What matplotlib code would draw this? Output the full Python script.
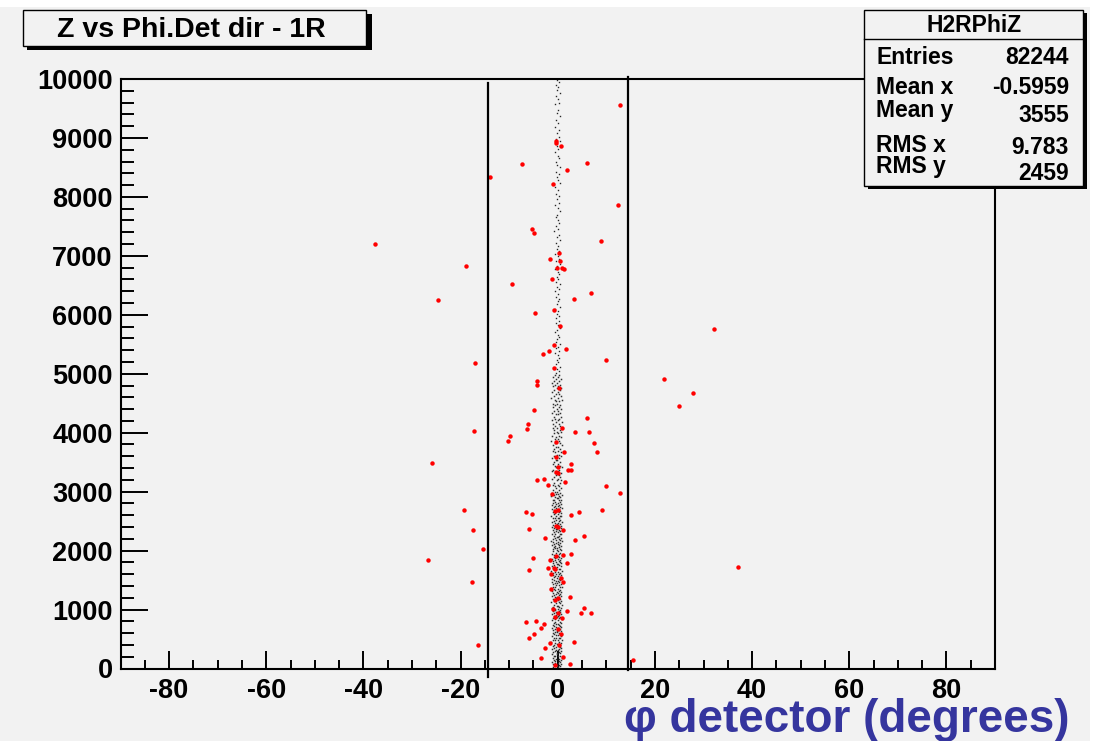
import matplotlib
matplotlib.use('Agg')
import matplotlib.pyplot as plt
from matplotlib.patches import Rectangle
from matplotlib.lines import Line2D
from matplotlib.ticker import MultipleLocator

plt.rcParams['font.family'] = ['Liberation Sans', 'DejaVu Sans']
plt.rcParams['axes.unicode_minus'] = False

# red points (phi detector, z)
red_x = [12.74, -0.33, -0.33, 0.62, -7.46, 6.04, 1.93, -14.04, -1.03, 12.33,
         -5.34, -4.79, -37.67, 8.84, 0.21, -1.50, 0.49, -18.91, -0.06, 0.82,
         1.23, -1.23, -9.37, -24.58, 6.78, 3.29, -4.64, -0.68, 0.55, 32.26,
         -0.74, 1.73, -1.71, -2.94, 10.01, -16.97, -0.74, 21.93, -4.17, -4.32,
         0.35, 27.89, 24.87, -4.99, 6.04, -6.17, -6.29, 0.82, -17.18, 3.49,
         6.45, -9.93, -10.19, -0.27, 7.40, 1.38, 8.16, -0.27, -25.89, 2.67,
         0.14, 2.06, 2.82, -0.27, 0.08, -4.17, -2.88, 1.58, -2.06, 10.01,
         12.74, -1.23, -19.24, -6.58, -5.26, -0.53, 0.08, 9.19, 4.32, 2.75,
         -17.53, -5.96, -0.33, 0.08, 1.17, -2.67, 5.43, 3.58, -15.47, -26.78,
         -5.14, -1.50, -0.27, 1.17, 2.67, 1.93, 37.14, -5.82, -1.91, -0.82,
         -0.53, -1.36, 0.76, 1.03, -17.59, -1.29, -0.47, 0.0, 2.55, -0.95,
         0.14, 1.93, 5.49, 4.87, 6.86, -0.47, 0.82, -6.49, -4.38, -2.88,
         -3.41, -4.99, 0.14, -5.96, 0.62, -1.56, 3.29, 0.35, -16.36, -2.59,
         -3.49, 1.17, -0.47, 2.55, 15.56]
red_z = [9562, 8956, 8910, 8871, 8560, 8582, 8452, 8340, 8221, 7869,
         7450, 7382, 7202, 7258, 7054, 6952, 6907, 6834, 6795, 6788,
         6771, 6608, 6516, 6245, 6363, 6273, 6031, 6087, 5810, 5764,
         5480, 5424, 5390, 5328, 5238, 5175, 5097, 4915, 4881, 4801,
         4762, 4672, 4457, 4389, 4241, 4146, 4071, 4078, 4027, 4020,
         4010, 3942, 3862, 3846, 3829, 3681, 3676, 3591, 3489, 3477,
         3421, 3365, 3365, 3341, 3324, 3195, 3217, 3161, 3110, 3093,
         2985, 2963, 2696, 2662, 2628, 2679, 2691, 2691, 2662, 2601,
         2346, 2368, 2419, 2397, 2351, 2221, 2244, 2182, 2034, 1842,
         1871, 1847, 1905, 1922, 1949, 1786, 1728, 1667, 1711, 1711,
         1694, 1609, 1537, 1474, 1463, 1350, 1168, 1197, 1214, 1015,
         947, 971, 1032, 942, 947, 869, 857, 789, 806, 756,
         693, 591, 676, 518, 591, 438, 445, 394, 404, 343,
         178, 200, 65, 76, 149]

# black core of the distribution, upper part (sparse)
core_top_z = [9985, 9950, 9905, 9870, 9810, 9770, 9720, 9660, 9600, 9575,
              9480, 9420, 9370, 9300, 9260, 9190, 9130, 9080, 9020, 8985,
              8940, 8860, 8815, 8760, 8700, 8660, 8590, 8545, 8500, 8430,
              8395, 8340, 8280, 8230, 8160, 8120, 8050, 8010, 7960, 7900,
              7870, 7810, 7760, 7700, 7655, 7610, 7560, 7500, 7450, 7420,
              7360, 7320, 7270, 7210, 7170, 7120, 7080, 7030, 6990, 6940,
              6910, 6860, 6820, 6770, 6730, 6690, 6640, 6610, 6560, 6520,
              6470, 6440, 6400, 6350, 6310, 6260, 6230, 6190, 6140, 6100,
              6060, 6020, 5980, 5940, 5890, 5860, 5820, 5780, 5740, 5700,
              5660, 5620, 5590, 5540, 5500, 5460, 5430, 5390, 5350, 5310,
              5270, 5240, 5200, 5160, 5120, 5080, 5050, 5010]
core_top_x = [-0.2, 0.3, -0.4, 0.1, -0.1, 0.4, -0.3, 0.0, 0.2, -0.5,
              0.1, -0.2, 0.5, -0.3, 0.0, -0.6, 0.3, -0.1, 0.2, -0.4,
              0.4, -0.2, 0.1, -0.5, 0.0, 0.3, -0.3, -0.1, 0.5, -0.4,
              0.2, -0.2, 0.0, 0.4, -0.6, 0.1, -0.3, 0.3, -0.1, 0.2,
              -0.5, 0.0, 0.4, -0.2, -0.4, 0.1, 0.3, -0.3, 0.0, -0.7,
              0.2, -0.1, 0.5, -0.4, 0.1, -0.2, 0.3, -0.5, 0.0, 0.2,
              -0.3, 0.4, -0.1, -0.6, 0.1, 0.3, -0.2, 0.0, -0.4, 0.5,
              -0.1, 0.2, -0.5, 0.1, -0.3, 0.3, 0.0, -0.2, 0.4, -0.6,
              0.1, -0.1, 0.2, -0.4, 0.3, -0.3, 0.0, 0.5, -0.2, -0.5,
              0.1, 0.2, -0.1, -0.4, 0.4, 0.0, -0.3, 0.2, -0.6, 0.1,
              0.3, -0.2, 0.0, -0.4, 0.4, -0.1, 0.2, -0.3]

# lower part (dense), two dots per row
core_low_z = [4975, 4945, 4910, 4880, 4850, 4815, 4790, 4750, 4720, 4690,
              4655, 4630, 4590, 4560, 4530, 4495, 4470, 4430, 4400, 4370,
              4335, 4310, 4270, 4240, 4210, 4175, 4150, 4110, 4080, 4050,
              4015, 3990, 3950, 3920, 3890, 3855, 3830, 3790, 3760, 3730,
              3695, 3670, 3630, 3600, 3570, 3535, 3510, 3470, 3440, 3410,
              3375, 3350, 3310, 3280, 3250, 3215, 3190, 3150, 3120, 3090,
              3055, 3030, 2995, 2975, 2960, 2940, 2920, 2905, 2885, 2865,
              2850, 2830, 2815, 2795, 2775, 2760, 2740, 2725, 2705, 2685,
              2670, 2650, 2635, 2615, 2595, 2580, 2560, 2545, 2525, 2505,
              2490, 2470, 2455, 2435, 2415, 2400, 2380, 2365, 2345, 2325,
              2310, 2290, 2275, 2255, 2235, 2220, 2200, 2185, 2165, 2145,
              2130, 2110, 2095, 2075, 2055, 2040, 2020, 2005, 1985, 1965,
              1950, 1930, 1915, 1895, 1875, 1860, 1840, 1825, 1805, 1785,
              1770, 1750, 1735, 1715, 1695, 1680, 1660, 1645, 1625, 1605,
              1590, 1570, 1555, 1535, 1515, 1500, 1480, 1465, 1445, 1425,
              1410, 1390, 1375, 1355, 1335, 1320, 1300, 1285, 1265, 1245,
              1230, 1210, 1195, 1175, 1155, 1140, 1120, 1105, 1085, 1065,
              1050, 1030, 1015, 995, 975, 960, 940, 925, 905, 885,
              870, 850, 835, 815, 795, 780, 760, 745, 725, 705,
              690, 670, 655, 635, 615, 600, 580, 565, 545, 525,
              510, 490, 475, 455, 435, 420, 400, 385, 365, 345,
              330, 310, 295, 275, 255, 240, 220, 205, 185, 165,
              150, 130, 115, 95, 75, 60, 40, 25]
core_low_xa = [-0.6, -1.0, -0.3, -0.8, -1.2, -0.5, -0.9, -0.2, -0.7, -1.1,
               -0.4, -0.8, -1.3, -0.6, -0.3, -1.0, -0.5, -0.9, -0.2, -0.7,
               -1.1, -0.4, -0.8, -0.6, -1.2, -0.3, -0.9, -0.5, -1.0, -0.7,
               -0.2, -0.8, -1.1, -0.4, -0.6, -1.3, -0.5, -0.9, -0.3, -0.7,
               -1.0, -0.6, -0.2, -0.8, -1.2, -0.4, -0.7, -1.0, -0.5, -0.3,
               -0.9, -1.1, -0.6, -0.4, -0.8, -1.2, -0.2, -0.7, -1.0, -0.5,
               -0.3, -0.9, -0.6, -1.1, -0.4, -0.8, -1.3, -0.5, -0.2, -0.7,
               -1.0, -0.6, -0.9, -0.3, -1.2, -0.5, -0.8, -0.4, -1.1, -0.7,
               -0.2, -1.0, -0.6, -0.8, -0.4, -1.3, -0.5, -0.9, -0.3, -0.7,
               -1.1, -0.6, -0.2, -0.9, -0.5, -1.2, -0.8, -0.4, -1.0, -0.3,
               -0.7, -1.1, -0.5, -0.8, -0.2, -0.6, -1.0, -0.4, -1.3, -0.9,
               -0.3, -0.7, -1.2, -0.5, -0.8, -0.6, -1.0, -0.2, -0.9, -0.4,
               -1.1, -0.7, -0.3, -0.8, -0.5, -1.2, -0.6, -0.9, -0.4, -1.0,
               -0.2, -0.8, -1.1, -0.5, -0.7, -0.3, -1.3, -0.6, -0.9, -0.4,
               -1.0, -0.5, -0.8, -0.2, -1.2, -0.7, -0.4, -1.1, -0.6, -0.9,
               -0.3, -1.0, -0.5, -0.8, -0.6, -1.2, -0.2, -0.9, -0.4, -0.7,
               -1.1, -0.6, -0.3, -1.0, -0.5, -0.8, -1.3, -0.4, -0.7, -0.2,
               -0.9, -1.1, -0.5, -0.6, -1.0, -0.3, -0.8, -1.2, -0.4, -0.7,
               -0.2, -0.9, -0.6, -1.1, -0.5, -0.8, -0.3, -1.0, -0.7, -0.4,
               -1.2, -0.5, -0.9, -0.2, -0.6, -1.0, -0.8, -0.3, -1.1, -0.7,
               -0.4, -0.9, -0.6, -1.3, -0.5, -0.2, -0.8, -1.0, -0.3, -0.7,
               -1.1, -0.4, -0.6, -0.9, -0.2, -1.2, -0.5, -0.8, -1.0, -0.3,
               -0.7, -0.5, -1.1, -0.6, -0.9, -0.4, -0.2, -1.0]
core_low_xb = [0.3, 0.0, 0.6, 0.2, -0.1, 0.5, 0.1, 0.7, 0.4, 0.0,
               0.2, 0.6, 0.1, 0.8, 0.3, -0.1, 0.5, 0.2, 0.7, 0.0,
               0.4, 0.1, 0.6, 0.3, 0.0, 0.8, 0.2, 0.5, -0.1, 0.4,
               0.7, 0.1, 0.3, 0.6, 0.0, 0.2, 0.5, 0.8, 0.1, 0.4,
               0.0, 0.6, 0.3, 0.7, 0.2, -0.1, 0.5, 0.1, 0.4, 0.8,
               0.2, 0.0, 0.6, 0.3, 0.5, 0.1, 0.7, 0.4, 0.0, 0.2,
               0.6, 0.3, -0.1, 0.5, 0.1, 0.8, 0.2, 0.4, 0.0, 0.7,
               0.3, 0.5, 0.1, 0.6, 0.2, 0.0, 0.4, 0.8, 0.3, -0.1,
               0.5, 0.2, 0.7, 0.1, 0.4, 0.6, 0.0, 0.3, 0.5, 0.2,
               0.8, 0.1, 0.4, 0.0, 0.6, 0.3, 0.7, -0.1, 0.2, 0.5,
               0.1, 0.4, 0.7, 0.2, 0.0, 0.6, 0.3, 0.5, 0.8, 0.1,
               0.4, 0.0, 0.2, 0.6, 0.3, -0.1, 0.5, 0.7, 0.1, 0.4,
               0.2, 0.8, 0.0, 0.3, 0.6, 0.1, 0.5, 0.2, 0.4, 0.7,
               0.0, 0.3, 0.6, -0.1, 0.4, 0.2, 0.8, 0.1, 0.5, 0.3,
               0.7, 0.0, 0.4, 0.6, 0.2, 0.5, 0.1, 0.3, -0.1, 0.6,
               0.2, 0.4, 0.8, 0.0, 0.5, 0.3, 0.7, 0.1, 0.4, 0.2,
               0.6, -0.1, 0.3, 0.5, 0.0, 0.7, 0.2, 0.4, 0.8, 0.1,
               0.3, 0.6, 0.0, 0.4, 0.2, 0.5, -0.1, 0.7, 0.3, 0.1,
               0.5, 0.2, 0.8, 0.0, 0.4, 0.6, 0.1, 0.3, 0.5, 0.7,
               0.0, 0.4, 0.2, 0.6, -0.1, 0.3, 0.5, 0.1, 0.7, 0.2,
               0.4, 0.8, 0.0, 0.3, 0.6, 0.1, 0.5, 0.2, 0.4, 0.7,
               0.3, 0.0, 0.6, 0.2, 0.5, -0.1, 0.4, 0.1, 0.8, 0.3,
               0.6, 0.2, 0.4, 0.0, 0.7, 0.3, 0.5, 0.1]

# vertical cut lines (x, z from, z to)
cut_left = (-14.4, -150, 9940)
cut_right = (14.45, 10040, -25)

stats_labels = ['Entries', 'Mean x', 'Mean y', 'RMS x', 'RMS y']
stats_values = ['82244', '-0.5959', '3555', '9.783', '2459']

W, H = 1097, 741
BG = '#f2f2f2'


def fx(px):
    return px / W


def fy(py):
    return 1 - py / H


fig = plt.figure(figsize=(W / 100, H / 100), dpi=100, facecolor='white')
fig.patches.append(Rectangle((0, 0), fx(1090), fy(7), transform=fig.transFigure,
                             facecolor=BG, edgecolor='none', zorder=-5))

ax = fig.add_axes([fx(120.5), fy(668.5), fx(995) - fx(120.5), fy(79) - fy(668.5)])
ax.set_facecolor(BG)
ax.set_xlim(-90, 90)
ax.set_ylim(0, 10000)

# black core
n_top = min(len(core_top_x), len(core_top_z))
ax.plot(core_top_x[:n_top], core_top_z[:n_top], ls='none',
        marker='s', ms=1.0, mew=0, color='#262626')
n_low = min(len(core_low_z), len(core_low_xa), len(core_low_xb))
ax.plot(core_low_xa[:n_low] + core_low_xb[:n_low], core_low_z[:n_low] * 2,
        ls='none', marker='s', ms=1.1, mew=0, color='#303030')

# red points
ax.plot(red_x, red_z, ls='none', marker='o', ms=3.2, mew=0, color='#ff0000')

for cx, z0, z1 in (cut_left, cut_right):
    ax.add_line(Line2D([cx, cx], [z0, z1], color='black', lw=1.6, clip_on=False))

for sp in ax.spines.values():
    sp.set_linewidth(1.5)

ax.xaxis.set_major_locator(MultipleLocator(20))
ax.xaxis.set_minor_locator(MultipleLocator(5))
ax.yaxis.set_major_locator(MultipleLocator(1000))
ax.yaxis.set_minor_locator(MultipleLocator(200))
ax.tick_params(axis='x', which='major', direction='in', length=13, width=1.4,
               pad=7, labelsize=19.5)
ax.tick_params(axis='x', which='minor', direction='in', length=6.7, width=1.4)
ax.tick_params(axis='y', which='major', direction='in', length=19.4, width=1.4,
               pad=5.5, labelsize=19.5)
ax.tick_params(axis='y', which='minor', direction='in', length=9.4, width=1.4)
for lab in ax.get_xticklabels() + ax.get_yticklabels():
    lab.set_fontweight('bold')

fig.text(fx(1070), fy(732), 'φ detector (degrees)', ha='right', va='baseline',
         fontsize=33, fontweight='bold', color='#35359e')

# title box with shadow
fig.patches.append(Rectangle((fx(27), fy(50)), fx(345), fy(14) - fy(50),
                             transform=fig.transFigure, facecolor='black',
                             edgecolor='none', zorder=5))
fig.patches.append(Rectangle((fx(23), fy(46)), fx(343), fy(10) - fy(46),
                             transform=fig.transFigure, facecolor=BG,
                             edgecolor='black', lw=1.0, zorder=6))
fig.text(fx(191), fy(30), 'Z vs Phi.Det dir - 1R', ha='center', va='center',
         fontsize=20.5, fontweight='bold', zorder=7)

# stats box with shadow
fig.patches.append(Rectangle((fx(868), fy(189)), fx(219), fy(13) - fy(189),
                             transform=fig.transFigure, facecolor='black',
                             edgecolor='none', zorder=5))
fig.patches.append(Rectangle((fx(864), fy(186)), fx(219), fy(10) - fy(186),
                             transform=fig.transFigure, facecolor=BG,
                             edgecolor='black', lw=1.0, zorder=6))
fig.add_artist(Line2D([fx(864), fx(1083)], [fy(39), fy(39)], transform=fig.transFigure,
                      color='black', lw=1.0, zorder=7))
fig.text(fx(974), fy(26), 'H2RPhiZ', ha='center', va='center', fontsize=16.5,
         fontweight='bold', zorder=7)
label_y = [57, 87, 110, 145, 167]
value_y = [57, 87, 116, 147, 173]
for lab, val, ly, vy in zip(stats_labels, stats_values, label_y, value_y):
    fig.text(fx(876), fy(ly), lab, ha='left', va='center', fontsize=16.5,
             fontweight='bold', zorder=7)
    fig.text(fx(1069), fy(vy), val, ha='right', va='center', fontsize=16.5,
             fontweight='bold', zorder=7)

fig.savefig('out.png', dpi=100, facecolor=fig.get_facecolor())
